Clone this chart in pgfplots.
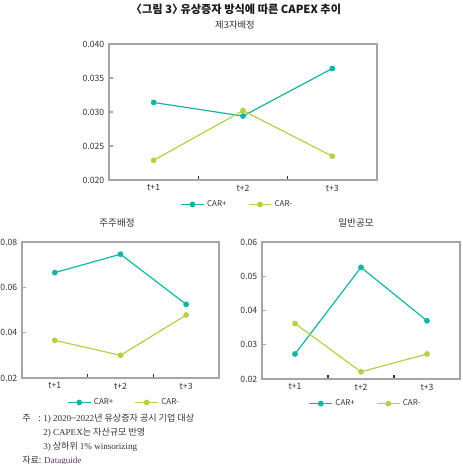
\documentclass[border=0pt]{standalone}
\usepackage{fontspec}
\setmainfont{Noto Sans CJK KR}
\newfontfamily\ser{Liberation Serif}
\usepackage{pgfplots}
\pgfplotsset{compat=1.18}
\definecolor{cteal}{RGB}{20,180,165}
\definecolor{clime}{RGB}{185,205,70}
\definecolor{cframe}{RGB}{165,165,165}
\definecolor{ctext}{RGB}{50,50,50}
\pgfplotsset{
 myax/.style={
  scale only axis,
  anchor=north west,
  xmin=-0.5,xmax=2.5,
  xtick={0.5,1.5},
  xticklabels={},
  major x tick style={draw=black!80, line width=1.1pt},
  extra x ticks={0,1,2},
  extra x tick labels={t+1,t+2,t+3},
  extra x tick style={major tick length=0pt},
  xtick pos=bottom, ytick pos=left,
  axis line style={cframe, line width=0.8pt},
  major y tick style={cframe, line width=0.8pt},
  major tick length=3pt,
  tick align=inside,
  tick label style={font=\fontsize{6.5}{7}\selectfont, text=ctext},
  scaled y ticks=false,
  /pgf/number format/assume math mode=true,
  /pgf/number format/fixed,
  /pgf/number format/fixed zerofill,
  every axis plot/.append style={line width=0.9pt, mark=*, mark size=1.7pt},
  legend style={draw=none, fill=none, font=\fontsize{6}{7}\selectfont, text=ctext,
    legend columns=2, /tikz/every even column/.append style={column sep=14pt}, anchor=center},
  legend cell align=left,
  clip=false,
 }
}
\begin{document}
\begin{tikzpicture}[x=0.75pt,y=-0.75pt]
\path[use as bounding box] (0,0) rectangle (463,464);
\coordinate (PA) at (109,44);
\coordinate (PB) at (22,242);
\coordinate (PC) at (262,242);
% titles
\node[font=\fontsize{8.4}{9}\selectfont\bfseries, text=black!90] at (236,9) {〈그림 3〉\kern-0.25em 유상증자 방식에 따른 CAPEX 추이};
\node[font=\fontsize{7}{8}\selectfont, text=ctext] at (235,25) {제3자배정};
\node[font=\fontsize{7.2}{8}\selectfont, text=ctext] at (117,223) {주주배정};
\node[font=\fontsize{7.2}{8}\selectfont, text=ctext] at (356,223) {일반공모};

% top axis
\begin{axis}[myax, at={(PA)}, width=201pt, height=102pt,
  ymin=0.02, ymax=0.04, ytick={0.020,0.025,0.030,0.035,0.040},
  yticklabel style={/pgf/number format/precision=3},
  legend style={at={(0.48,-0.18)}}]
\addplot[cteal, mark options={fill=cteal}] coordinates {(0,0.0314) (1,0.0294) (2,0.0364)};
\addplot[clime, mark options={fill=clime}] coordinates {(0,0.0229) (1,0.0302) (2,0.0235)};
\legend{CAR+, CAR-}
\end{axis}

% bottom-left axis
\begin{axis}[myax, at={(PB)}, width=147.75pt, height=102pt,
  ymin=0.02, ymax=0.08, ytick={0.02,0.04,0.06,0.08},
  yticklabel style={/pgf/number format/precision=2},
  legend style={at={(0.52,-0.18)}}]
\addplot[cteal, mark options={fill=cteal}] coordinates {(0,0.0665) (1,0.0746) (2,0.0525)};
\addplot[clime, mark options={fill=clime}] coordinates {(0,0.0366) (1,0.0300) (2,0.0478)};
\legend{CAR+, CAR-}
\end{axis}

% bottom-right axis
\begin{axis}[myax, at={(PC)}, width=148.5pt, height=102.75pt,
  ymin=0.02, ymax=0.06, ytick={0.02,0.03,0.04,0.05,0.06},
  yticklabel style={/pgf/number format/precision=2},
  legend style={at={(0.525,-0.18)}}]
\addplot[cteal, mark options={fill=cteal}] coordinates {(0,0.0273) (1,0.0526) (2,0.0370)};
\addplot[clime, mark options={fill=clime}] coordinates {(0,0.0362) (1,0.0221) (2,0.0273)};
\legend{CAR+, CAR-}
\end{axis}

% notes
\begin{scope}[every node/.style={anchor=base west, inner sep=0pt, font=\fontsize{6.8}{8}\selectfont, text=ctext}]
\node at (22,421) {주};
\node at (38,421) {:};
\node at (43,421) {{\ser 1) 2020\textasciitilde 2022}년 유상증자 공시 기업 대상};
\node at (43,435) {{\ser 2) CAPEX}는 자산규모 반영};
\node at (43,449) {{\ser 3)} 상하위 {\ser 1\% winsorizing}};
\node at (22,463) {자료: {\ser\color[RGB]{85,55,105} Dataguide}};
\end{scope}
\end{tikzpicture}
\end{document}
